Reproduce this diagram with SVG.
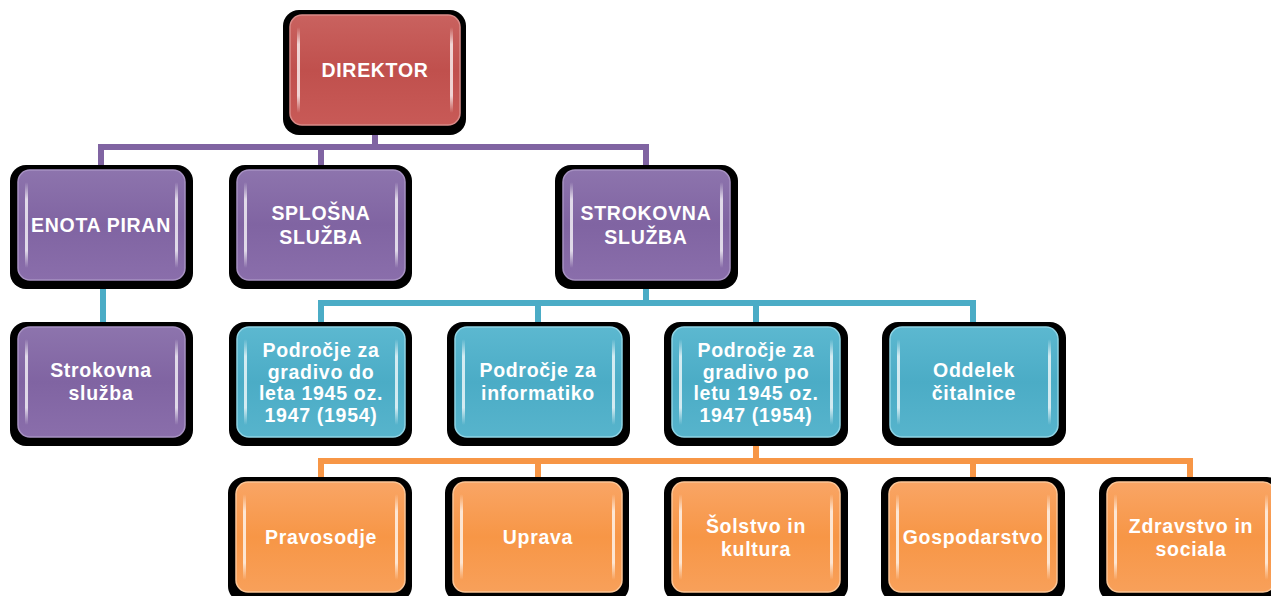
<svg xmlns="http://www.w3.org/2000/svg" width="1271" height="596" viewBox="0 0 1271 596">
<defs>
<linearGradient id="gRed" x1="0" y1="0" x2="0" y2="1"><stop offset="0" stop-color="#c9625f"/><stop offset="0.5" stop-color="#c0504d"/><stop offset="1" stop-color="#c85a57"/></linearGradient>
<linearGradient id="gPur" x1="0" y1="0" x2="0" y2="1"><stop offset="0" stop-color="#8d74ad"/><stop offset="0.5" stop-color="#8064a2"/><stop offset="1" stop-color="#8a6eab"/></linearGradient>
<linearGradient id="gTeal" x1="0" y1="0" x2="0" y2="1"><stop offset="0" stop-color="#5cb8d0"/><stop offset="0.5" stop-color="#4bacc6"/><stop offset="1" stop-color="#57b4cc"/></linearGradient>
<linearGradient id="gOr" x1="0" y1="0" x2="0" y2="1"><stop offset="0" stop-color="#f9a565"/><stop offset="0.5" stop-color="#f79646"/><stop offset="1" stop-color="#f8a05a"/></linearGradient>
<linearGradient id="hl" x1="0" y1="0" x2="0" y2="1"><stop offset="0" stop-color="#fff" stop-opacity="0"/><stop offset="0.2" stop-color="#fff" stop-opacity="0.75"/><stop offset="0.8" stop-color="#fff" stop-opacity="0.75"/><stop offset="1" stop-color="#fff" stop-opacity="0"/></linearGradient>
</defs>
<style>
.sh{fill:#000}
.red{fill:url(#gRed);stroke:#d98a88;stroke-width:1.5}
.pur{fill:url(#gPur);stroke:#a791c2;stroke-width:1.5}
.teal{fill:url(#gTeal);stroke:#8fd3e4;stroke-width:1.5}
.or{fill:url(#gOr);stroke:#fbc596;stroke-width:1.5}
.hl{fill:url(#hl)}
.t{font-family:"Liberation Sans",Arial,sans-serif;font-weight:bold;font-size:19.5px;letter-spacing:0.7px;fill:#fff;text-anchor:middle}
.cp{stroke:#8064a2;stroke-width:6;fill:none}
.ct{stroke:#4bacc6;stroke-width:6;fill:none}
.co{stroke:#f79646;stroke-width:6;fill:none}
</style>
<g id="connectors">
<path class="cp" d="M375,125V147M101,170V147H646V170M321,147V170"/>
<path class="ct" d="M103,280V327M646,280V303M321,327V303H973V327M538,303V327M756,303V327"/>
<path class="co" d="M756,437V461M321,482V461H1190V482M538,461V482M973,461V482"/>
</g>
<g id="n_direktor">
<rect class="sh" x="283" y="10" width="183" height="125" rx="16"/>
<rect class="red" x="290" y="15" width="170" height="110" rx="12"/>
<rect class="hl" x="297" y="27" width="3" height="86" rx="1.5"/><rect class="hl" x="450" y="27" width="3" height="86" rx="1.5"/>
<text class="t" x="375" y="77">DIREKTOR</text>
</g>
<g id="n_enota">
<rect class="sh" x="10" y="165" width="183" height="124" rx="16"/>
<rect class="pur" x="18" y="170" width="167" height="110" rx="12"/>
<rect class="hl" x="25" y="182" width="3" height="86" rx="1.5"/><rect class="hl" x="175" y="182" width="3" height="86" rx="1.5"/>
<text class="t" x="101" y="232">ENOTA PIRAN</text>
</g>
<g id="n_splosna">
<rect class="sh" x="229" y="165" width="183" height="124" rx="16"/>
<rect class="pur" x="237" y="170" width="168" height="110" rx="12"/>
<rect class="hl" x="244" y="182" width="3" height="86" rx="1.5"/><rect class="hl" x="395" y="182" width="3" height="86" rx="1.5"/>
<text class="t" x="321" y="220">SPLOŠNA</text><text class="t" x="321" y="244">SLUŽBA</text>
</g>
<g id="n_strokovna">
<rect class="sh" x="555" y="165" width="183" height="124" rx="16"/>
<rect class="pur" x="563" y="170" width="167" height="110" rx="12"/>
<rect class="hl" x="570" y="182" width="3" height="86" rx="1.5"/><rect class="hl" x="720" y="182" width="3" height="86" rx="1.5"/>
<text class="t" x="646" y="220">STROKOVNA</text><text class="t" x="646" y="244">SLUŽBA</text>
</g>
<g id="n_strokovna2">
<rect class="sh" x="10" y="322" width="183" height="124" rx="16"/>
<rect class="pur" x="18" y="327" width="167" height="110" rx="12"/>
<rect class="hl" x="25" y="339" width="3" height="86" rx="1.5"/><rect class="hl" x="175" y="339" width="3" height="86" rx="1.5"/>
<text class="t" x="101" y="377">Strokovna</text><text class="t" x="101" y="400">služba</text>
</g>
<g id="n_do1945">
<rect class="sh" x="229" y="322" width="183" height="124" rx="16"/>
<rect class="teal" x="237" y="327" width="168" height="110" rx="12"/>
<rect class="hl" x="244" y="339" width="3" height="86" rx="1.5"/><rect class="hl" x="395" y="339" width="3" height="86" rx="1.5"/>
<text class="t" x="321" y="357">Področje za</text><text class="t" x="321" y="379">gradivo do</text><text class="t" x="321" y="400">leta 1945 oz.</text><text class="t" x="321" y="422">1947 (1954)</text>
</g>
<g id="n_informatika">
<rect class="sh" x="447" y="322" width="183" height="124" rx="16"/>
<rect class="teal" x="455" y="327" width="167" height="110" rx="12"/>
<rect class="hl" x="462" y="339" width="3" height="86" rx="1.5"/><rect class="hl" x="612" y="339" width="3" height="86" rx="1.5"/>
<text class="t" x="538" y="377">Področje za</text><text class="t" x="538" y="400">informatiko</text>
</g>
<g id="n_po1945">
<rect class="sh" x="664" y="322" width="184" height="124" rx="16"/>
<rect class="teal" x="672" y="327" width="168" height="110" rx="12"/>
<rect class="hl" x="679" y="339" width="3" height="86" rx="1.5"/><rect class="hl" x="830" y="339" width="3" height="86" rx="1.5"/>
<text class="t" x="756" y="357">Področje za</text><text class="t" x="756" y="379">gradivo po</text><text class="t" x="756" y="400">letu 1945 oz.</text><text class="t" x="756" y="422">1947 (1954)</text>
</g>
<g id="n_citalnica">
<rect class="sh" x="882" y="322" width="184" height="124" rx="16"/>
<rect class="teal" x="890" y="327" width="168" height="110" rx="12"/>
<rect class="hl" x="897" y="339" width="3" height="86" rx="1.5"/><rect class="hl" x="1048" y="339" width="3" height="86" rx="1.5"/>
<text class="t" x="974" y="377">Oddelek</text><text class="t" x="974" y="400">čitalnice</text>
</g>
<g id="n_pravosodje">
<rect class="sh" x="228" y="477" width="184" height="125" rx="16"/>
<rect class="or" x="236" y="482" width="169" height="110" rx="12"/>
<rect class="hl" x="243" y="494" width="3" height="86" rx="1.5"/><rect class="hl" x="395" y="494" width="3" height="86" rx="1.5"/>
<text class="t" x="321" y="544">Pravosodje</text>
</g>
<g id="n_uprava">
<rect class="sh" x="445" y="477" width="184" height="125" rx="16"/>
<rect class="or" x="453" y="482" width="169" height="110" rx="12"/>
<rect class="hl" x="460" y="494" width="3" height="86" rx="1.5"/><rect class="hl" x="612" y="494" width="3" height="86" rx="1.5"/>
<text class="t" x="538" y="544">Uprava</text>
</g>
<g id="n_solstvo">
<rect class="sh" x="664" y="477" width="184" height="125" rx="16"/>
<rect class="or" x="672" y="482" width="168" height="110" rx="12"/>
<rect class="hl" x="679" y="494" width="3" height="86" rx="1.5"/><rect class="hl" x="830" y="494" width="3" height="86" rx="1.5"/>
<text class="t" x="756" y="533">Šolstvo in</text><text class="t" x="756" y="556">kultura</text>
</g>
<g id="n_gospodarstvo">
<rect class="sh" x="881" y="477" width="184" height="125" rx="16"/>
<rect class="or" x="889" y="482" width="168" height="110" rx="12"/>
<rect class="hl" x="896" y="494" width="3" height="86" rx="1.5"/><rect class="hl" x="1047" y="494" width="3" height="86" rx="1.5"/>
<text class="t" x="973" y="544">Gospodarstvo</text>
</g>
<g id="n_zdravstvo">
<rect class="sh" x="1099" y="477" width="184" height="125" rx="16"/>
<rect class="or" x="1107" y="482" width="168" height="110" rx="12"/>
<rect class="hl" x="1114" y="494" width="3" height="86" rx="1.5"/><rect class="hl" x="1265" y="494" width="3" height="86" rx="1.5"/>
<text class="t" x="1191" y="533">Zdravstvo in</text><text class="t" x="1191" y="556">sociala</text>
</g>
</svg>
